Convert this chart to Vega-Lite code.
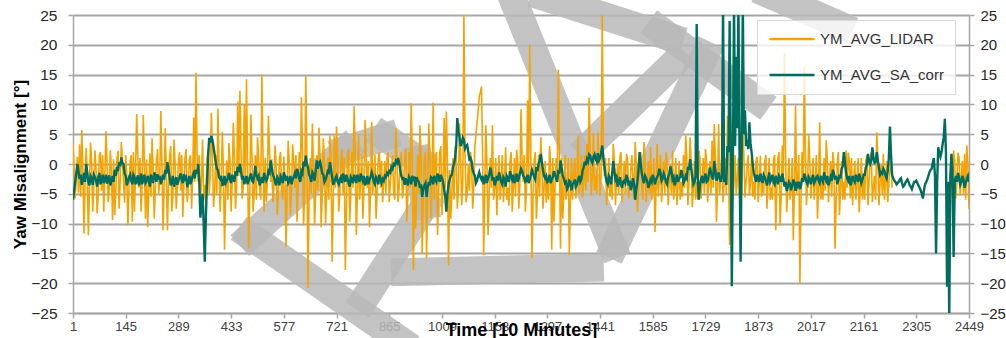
{
"$schema": "https://vega.github.io/schema/vega-lite/v6.json",
"width": 896, "height": 298,
"autosize": {"type": "none"},
"padding": {"left": 73, "top": 15, "right": 37, "bottom": 25},
"background": "white",
"config": {"view": {"stroke": null}, "font": "Liberation Sans"},
"datasets": {
"wm": [
{"x":485,"y":-12.1,"x2":894,"y2":-29.5},
{"x":485,"y":-12.1,"x2":744,"y2":2.35},
{"x":744,"y":2.35,"x2":853,"y2":4.5},
{"x":853,"y":4.5,"x2":944,"y2":0.7},
{"x":944,"y":0.7,"x2":963,"y2":-6.9},
{"x":963,"y":-6.9,"x2":799,"y2":-22.5},
{"x":908,"y":-18.1,"x2":1413,"y2":-17.4},
{"x":1198,"y":28.4,"x2":1474,"y2":-13.6},
{"x":1290,"y":28,"x2":1632,"y2":21.3},
{"x":1605,"y":22.5,"x2":1870,"y2":10.7},
{"x":1646,"y":17.1,"x2":1413,"y2":3.2},
{"x":1482,"y":-13.6,"x2":1728,"y2":18.3},
{"x":1905,"y":28.4,"x2":2096,"y2":23.3}
],
"ym": [
{"t":1,"L":3.7,"S":-6},{"t":4,"L":-1,"S":-4.5},{"t":7,"L":-5.8,"S":-3},{"t":10,"L":-2.5,"S":-1.5},{"t":13,"L":1.2,"S":0},{"t":16,"L":-4.8,"S":-1.2},{"t":19,"L":3.3,"S":-2.5},{"t":22,"L":-5.5,"S":-1.8},{"t":25,"L":5.7,"S":-3.5},{"t":28,"L":-1.5,"S":-2.6},
{"t":31,"L":-11.7,"S":-1.5},{"t":34,"L":-3,"S":-3},{"t":37,"L":2.7,"S":0},{"t":40,"L":-2,"S":-1.4},{"t":43,"L":-12,"S":-3},{"t":46,"L":-3.5,"S":-3.6},{"t":49,"L":3.6,"S":-2},{"t":52,"L":0,"S":-2.4},{"t":55,"L":-8,"S":-3.5},{"t":58,"L":-3,"S":-1.8},
{"t":61,"L":2.3,"S":-2.2},{"t":64,"L":-1,"S":-2.8},{"t":67,"L":-8.3,"S":-3.8},{"t":70,"L":-5,"S":-2.2},{"t":73,"L":1.4,"S":-1.5},{"t":76,"L":2,"S":-3.4},{"t":79,"L":-4.5,"S":-2.8},{"t":82,"L":1.5,"S":-1.8},{"t":85,"L":-8,"S":-3.2},{"t":88,"L":-2,"S":-2.6},
{"t":91,"L":5.5,"S":-1.8},{"t":94,"L":0.5,"S":-3.3},{"t":97,"L":-6.4,"S":-2.5},{"t":100,"L":-4,"S":-1.9},{"t":103,"L":2.3,"S":-3.6},{"t":106,"L":-1,"S":-2.8},{"t":109,"L":-9.4,"S":-2},{"t":112,"L":0.8,"S":-3},{"t":115,"L":-8.6,"S":-1},{"t":118,"L":-4.5,"S":-2},
{"t":121,"L":0.8,"S":-0.5},{"t":124,"L":2.2,"S":-1.2},{"t":127,"L":-7.5,"S":0.3},{"t":130,"L":-3,"S":-0.4},{"t":133,"L":3.7,"S":1.1},{"t":136,"L":0.5,"S":0.2},{"t":139,"L":-3.2,"S":0},{"t":142,"L":-6.5,"S":-1.6},{"t":145,"L":1.5,"S":-2},{"t":148,"L":-2,"S":-3.6},
{"t":151,"L":-10.3,"S":-3},{"t":154,"L":-4,"S":-2.2},{"t":157,"L":0.3,"S":-1.8},{"t":160,"L":1.5,"S":-2.8},{"t":163,"L":-9.7,"S":-3.4},{"t":166,"L":2,"S":-1.8},{"t":169,"L":-8,"S":-2.2},{"t":172,"L":-1,"S":-3.4},{"t":175,"L":8.4,"S":-2.8},{"t":178,"L":1.5,"S":-1.9},
{"t":181,"L":-4,"S":-3.6},{"t":184,"L":1,"S":-2.8},{"t":187,"L":-8,"S":-1.6},{"t":190,"L":-3,"S":-3.4},{"t":193,"L":8.2,"S":-2.6},{"t":196,"L":0,"S":-1.8},{"t":199,"L":-9.2,"S":-3.2},{"t":202,"L":0.8,"S":-2.9},{"t":205,"L":-10.6,"S":-2},{"t":208,"L":-5,"S":-2.6},
{"t":211,"L":1.8,"S":-3.8},{"t":214,"L":-5.5,"S":-1.8},{"t":217,"L":4.3,"S":-2.4},{"t":220,"L":-1,"S":-3.2},{"t":223,"L":-9.2,"S":-1.4},{"t":226,"L":-4,"S":-2},{"t":229,"L":0.5,"S":-3},{"t":232,"L":2.5,"S":-1.7},{"t":235,"L":-5,"S":-2.6},{"t":238,"L":-3,"S":-2},
{"t":241,"L":8.9,"S":-3.4},{"t":244,"L":0,"S":-2.7},{"t":247,"L":-11.1,"S":-1.8},{"t":250,"L":-4,"S":-2.6},{"t":253,"L":6,"S":-1},{"t":256,"L":-1.5,"S":-1.6},{"t":259,"L":-11.1,"S":0.3},{"t":262,"L":-3,"S":-0.8},{"t":265,"L":1.2,"S":-2.2},{"t":268,"L":3,"S":-3.6},
{"t":271,"L":-8,"S":-3},{"t":274,"L":-5,"S":-2},{"t":277,"L":4.1,"S":-3.8},{"t":280,"L":0,"S":-2.9},{"t":283,"L":-7.5,"S":-2.2},{"t":286,"L":-4,"S":-3.5},{"t":289,"L":0.4,"S":-2.8},{"t":292,"L":2,"S":-2.2},{"t":295,"L":-4.5,"S":-1.6},{"t":298,"L":1.5,"S":-2.6},
{"t":301,"L":-8.9,"S":-3.2},{"t":304,"L":-3.5,"S":-1.7},{"t":307,"L":1,"S":-2.5},{"t":310,"L":2.5,"S":-2.2},{"t":313,"L":-6.4,"S":-3.9},{"t":316,"L":-4,"S":-3},{"t":319,"L":0.6,"S":-2},{"t":322,"L":1.5,"S":-3.4},{"t":325,"L":-7.5,"S":-2.8},{"t":328,"L":-2,"S":-2},
{"t":331,"L":7.8,"S":-1.5},{"t":334,"L":-3,"S":-2.4},{"t":337,"L":15.3,"S":-1},{"t":340,"L":2,"S":-1.6},{"t":343,"L":-3,"S":0},{"t":346,"L":1.5,"S":-3},{"t":349,"L":-6.1,"S":-9},{"t":352,"L":-3,"S":-7},{"t":355,"L":4.1,"S":-5},{"t":358,"L":-6,"S":-10},
{"t":361,"L":-3.5,"S":-16.4},{"t":364,"L":-6.5,"S":-9},{"t":367,"L":0.8,"S":-3},{"t":370,"L":2.5,"S":1},{"t":373,"L":-5,"S":4.4},{"t":376,"L":-2,"S":3.6},{"t":379,"L":8.6,"S":4.7},{"t":382,"L":1,"S":4},{"t":385,"L":-7.2,"S":2.9},{"t":388,"L":-4.5,"S":1.6},
{"t":391,"L":1.5,"S":0.3},{"t":394,"L":-5,"S":-0.8},{"t":397,"L":9.3,"S":-1},{"t":400,"L":0,"S":-2.2},{"t":403,"L":-8,"S":-2.5},{"t":406,"L":-3,"S":-2},{"t":409,"L":5.4,"S":-3.5},{"t":412,"L":-1,"S":-3.4},{"t":415,"L":-14.4,"S":-2},{"t":418,"L":-5,"S":-3.2},
{"t":421,"L":0.6,"S":-2.8},{"t":424,"L":-6,"S":-2.4},{"t":427,"L":3.5,"S":-1.5},{"t":430,"L":0.5,"S":-2.6},{"t":433,"L":-8,"S":-3.2},{"t":436,"L":-3,"S":-1.8},{"t":439,"L":6.9,"S":-2.4},{"t":442,"L":1,"S":-3},{"t":445,"L":-7.5,"S":-1.2},{"t":448,"L":-4,"S":-2},
{"t":451,"L":10.5,"S":-0.5},{"t":454,"L":-2,"S":-1.4},{"t":457,"L":12.3,"S":0},{"t":460,"L":3,"S":-1.2},{"t":463,"L":-5.8,"S":-2.6},{"t":466,"L":-4,"S":-2},{"t":469,"L":10,"S":-3.4},{"t":472,"L":-3,"S":-2.8},{"t":475,"L":14.2,"S":-2},{"t":478,"L":0,"S":-3.4},
{"t":481,"L":-14.2,"S":-2.8},{"t":484,"L":-5,"S":-2.2},{"t":487,"L":8.3,"S":-1.6},{"t":490,"L":1.5,"S":-2.8},{"t":493,"L":-8,"S":-3},{"t":496,"L":-5,"S":-2},{"t":499,"L":1.5,"S":-0.3},{"t":502,"L":-6,"S":-1.8},{"t":505,"L":4.5,"S":-2.4},{"t":508,"L":1.5,"S":-2},
{"t":511,"L":-4,"S":-3.6},{"t":514,"L":-6,"S":-3},{"t":517,"L":15,"S":-2.2},{"t":520,"L":2,"S":-3.2},{"t":523,"L":-8,"S":-1.5},{"t":526,"L":1,"S":-2.2},{"t":529,"L":-6.4,"S":-2.8},{"t":532,"L":-3,"S":-2.4},{"t":535,"L":8.1,"S":-1.2},{"t":538,"L":2,"S":-1.5},
{"t":541,"L":-3,"S":0.6},{"t":544,"L":0.8,"S":-0.6},{"t":547,"L":-6.4,"S":-1.8},{"t":550,"L":-4,"S":-2.2},{"t":553,"L":3.1,"S":-3},{"t":556,"L":0,"S":-3.6},{"t":559,"L":-8.6,"S":-2.2},{"t":562,"L":-5,"S":-2.6},{"t":565,"L":0.8,"S":-3.6},{"t":568,"L":2,"S":-2},
{"t":571,"L":-4,"S":-2.4},{"t":574,"L":-6,"S":-3.2},{"t":577,"L":1.2,"S":-1.4},{"t":580,"L":-3,"S":-2},{"t":583,"L":-13.9,"S":-2.8},{"t":586,"L":-5,"S":-2},{"t":589,"L":3.9,"S":-3.2},{"t":592,"L":0,"S":-2.8},{"t":595,"L":-8.6,"S":-2},{"t":598,"L":-5,"S":-3.4},
{"t":601,"L":3.3,"S":-2.6},{"t":604,"L":0.5,"S":-2.2},{"t":607,"L":-4,"S":-1.6},{"t":610,"L":1.5,"S":-2.4},{"t":613,"L":-9.7,"S":-0.8},{"t":616,"L":-4,"S":-1.4},{"t":619,"L":2,"S":-2.4},{"t":622,"L":-3,"S":-3},{"t":625,"L":11.2,"S":-1.2},{"t":628,"L":2,"S":-1.6},
{"t":631,"L":-10.3,"S":0.4},{"t":634,"L":-4,"S":-0.4},{"t":637,"L":14.8,"S":1.4},{"t":640,"L":1,"S":0},{"t":643,"L":-20.8,"S":-0.6},{"t":646,"L":-6,"S":-1.8},{"t":649,"L":1,"S":-2.2},{"t":652,"L":-5,"S":-3},{"t":655,"L":6.8,"S":-1.4},{"t":658,"L":0,"S":-1.8},
{"t":661,"L":-10.3,"S":-2.8},{"t":664,"L":-5,"S":-1.2},{"t":667,"L":1.5,"S":0.6},{"t":670,"L":-4.5,"S":-0.8},{"t":673,"L":6.1,"S":0.2},{"t":676,"L":1,"S":0.4},{"t":679,"L":-10.6,"S":-0.5},{"t":682,"L":-5,"S":-1.6},{"t":685,"L":4.3,"S":-1.8},{"t":688,"L":0,"S":-3},
{"t":691,"L":-10,"S":-2.6},{"t":694,"L":-5,"S":-2},{"t":697,"L":1,"S":-1.2},{"t":700,"L":-6,"S":-1.4},{"t":703,"L":4.8,"S":0.3},{"t":706,"L":0,"S":-0.9},{"t":709,"L":-16.4,"S":-2.2},{"t":712,"L":-6,"S":-3.5},{"t":715,"L":4.8,"S":-3},{"t":718,"L":-4,"S":-2.4},
{"t":721,"L":6.3,"S":-2},{"t":724,"L":1,"S":-3},{"t":727,"L":-8,"S":-3.4},{"t":730,"L":-5,"S":-2.6},{"t":733,"L":0.5,"S":-2.2},{"t":736,"L":2.5,"S":-3.2},{"t":739,"L":-5,"S":-1.6},{"t":742,"L":1,"S":-2.2},{"t":745,"L":-17.8,"S":-3},{"t":748,"L":-7,"S":-1.8},
{"t":751,"L":1.7,"S":-2.4},{"t":754,"L":2.5,"S":-3.2},{"t":757,"L":-9.7,"S":-3.8},{"t":760,"L":-5,"S":-2.2},{"t":763,"L":2,"S":-2.6},{"t":766,"L":-4,"S":-3.2},{"t":769,"L":9.7,"S":-1.8},{"t":772,"L":2,"S":-2.4},{"t":775,"L":-11.9,"S":-3.2},{"t":778,"L":-5,"S":-1.8},
{"t":781,"L":5,"S":-2.4},{"t":784,"L":-6,"S":-3},{"t":787,"L":-3,"S":-1.6},{"t":790,"L":1.5,"S":-2.2},{"t":793,"L":-9.2,"S":-2.8},{"t":796,"L":-4,"S":-2},{"t":799,"L":7.4,"S":-3.6},{"t":802,"L":1,"S":-3},{"t":805,"L":-4,"S":-2},{"t":808,"L":0.5,"S":-3.4},
{"t":811,"L":-10.6,"S":-2.6},{"t":814,"L":-4,"S":-2.2},{"t":817,"L":7.1,"S":-1.4},{"t":820,"L":-5,"S":-2},{"t":823,"L":-2,"S":-3},{"t":826,"L":1.5,"S":-3.4},{"t":829,"L":-9.2,"S":-2.2},{"t":832,"L":-5,"S":-2.6},{"t":835,"L":1,"S":-3.4},{"t":838,"L":2,"S":-1.8},
{"t":841,"L":-4,"S":-2.6},{"t":844,"L":0.5,"S":-3.2},{"t":847,"L":-6.4,"S":-2.5},{"t":850,"L":-3,"S":-2.8},{"t":853,"L":0.5,"S":-2},{"t":856,"L":-5,"S":-2.2},{"t":859,"L":1.1,"S":-1.5},{"t":862,"L":2,"S":-1.8},{"t":865,"L":-6.4,"S":-1.2},{"t":868,"L":-3,"S":-1.4},
{"t":871,"L":-1,"S":-0.5},{"t":874,"L":1.5,"S":-0.8},{"t":877,"L":-4.5,"S":0},{"t":880,"L":-6,"S":-0.2},{"t":883,"L":6,"S":0.5},{"t":886,"L":1,"S":0.2},{"t":889,"L":-6.4,"S":1},{"t":892,"L":-4,"S":0.3},{"t":895,"L":0.5,"S":-1},{"t":898,"L":2,"S":-2},
{"t":901,"L":-5.8,"S":-2.5},{"t":904,"L":-4,"S":-2.4},{"t":907,"L":1,"S":-3.5},{"t":910,"L":2.5,"S":-2.4},{"t":913,"L":-9.7,"S":-3},{"t":916,"L":-5,"S":-3.6},{"t":919,"L":2,"S":-2.2},{"t":922,"L":-4,"S":-2.6},{"t":925,"L":10.2,"S":-3.4},{"t":928,"L":1,"S":-2},
{"t":931,"L":-17.8,"S":-2.6},{"t":934,"L":-2,"S":-2.4},{"t":937,"L":-10.8,"S":-3.8},{"t":940,"L":-5,"S":-2.2},{"t":943,"L":1.5,"S":-2.8},{"t":946,"L":-5,"S":-3},{"t":949,"L":6.5,"S":-4},{"t":952,"L":1,"S":-3.4},{"t":955,"L":-15,"S":-5.5},{"t":958,"L":-6,"S":-4.2},
{"t":961,"L":1,"S":-3.6},{"t":964,"L":2,"S":-3.2},{"t":967,"L":-15.8,"S":-5.5},{"t":970,"L":-5,"S":-4},{"t":973,"L":6.8,"S":-3},{"t":976,"L":1,"S":-3.6},{"t":979,"L":-9.2,"S":-2.2},{"t":982,"L":-4,"S":-2.4},{"t":985,"L":10.3,"S":-3.4},{"t":988,"L":-6,"S":-2},
{"t":991,"L":1,"S":-2.6},{"t":994,"L":2,"S":-3},{"t":997,"L":-11.9,"S":-1.6},{"t":1000,"L":-5,"S":-2.2},{"t":1003,"L":2,"S":-3},{"t":1006,"L":3,"S":-1.8},{"t":1009,"L":-8.6,"S":-2.4},{"t":1012,"L":-4,"S":-3},{"t":1015,"L":7.7,"S":-4.2},{"t":1018,"L":-4,"S":-5.5},
{"t":1021,"L":8.8,"S":-8},{"t":1024,"L":1,"S":-5},{"t":1027,"L":-17,"S":-3.5},{"t":1030,"L":-1,"S":-2.6},{"t":1033,"L":-9.2,"S":-2},{"t":1036,"L":-5,"S":-1.8},{"t":1039,"L":1,"S":-0.5},{"t":1042,"L":-6,"S":0},{"t":1045,"L":3,"S":1},{"t":1048,"L":1,"S":3},
{"t":1051,"L":-7.5,"S":7.7},{"t":1054,"L":-4,"S":5.5},{"t":1057,"L":6.8,"S":4.5},{"t":1060,"L":1,"S":3},{"t":1063,"L":-6.9,"S":3.5},{"t":1066,"L":-3,"S":4.4},{"t":1069,"L":25,"S":4},{"t":1072,"L":2,"S":2.6},{"t":1075,"L":-6.4,"S":3},{"t":1078,"L":-5,"S":3.2},
{"t":1081,"L":0,"S":2},{"t":1084,"L":-4.5,"S":0.8},{"t":1087,"L":2,"S":1},{"t":1090,"L":0.5,"S":0.4},{"t":1093,"L":-7.5,"S":-1},{"t":1096,"L":-4,"S":-1.6},{"t":1099,"L":3,"S":-2},{"t":1102,"L":5,"S":-3.2},{"t":1105,"L":7,"S":-2.8},{"t":1108,"L":9,"S":-2},
{"t":1111,"L":11.4,"S":-1.4},{"t":1114,"L":12,"S":-2.2},{"t":1117,"L":13,"S":-2.6},{"t":1120,"L":2,"S":-2},{"t":1123,"L":-15.3,"S":-3.4},{"t":1126,"L":-5,"S":-2.8},{"t":1129,"L":6.5,"S":-1.8},{"t":1132,"L":0,"S":-3.2},{"t":1135,"L":-11.9,"S":-2.4},{"t":1138,"L":-5,"S":-1.8},
{"t":1141,"L":1,"S":-0.6},{"t":1144,"L":-4,"S":-1.4},{"t":1147,"L":6.5,"S":-2.8},{"t":1150,"L":-6,"S":-2.2},{"t":1153,"L":-4,"S":-3.6},{"t":1156,"L":1,"S":-3},{"t":1159,"L":-8.6,"S":-2},{"t":1162,"L":-3,"S":-2.8},{"t":1165,"L":1.5,"S":-1.4},{"t":1168,"L":-6,"S":-2.2},
{"t":1171,"L":-3,"S":-3},{"t":1174,"L":1.5,"S":-3.4},{"t":1177,"L":-6.4,"S":-2.2},{"t":1180,"L":-3,"S":-2.6},{"t":1183,"L":2.8,"S":-3.8},{"t":1186,"L":-6,"S":-2},{"t":1189,"L":-4,"S":-2.4},{"t":1192,"L":-7,"S":-3},{"t":1195,"L":0.5,"S":-1.2},{"t":1198,"L":2,"S":-2},
{"t":1201,"L":-8,"S":-2.6},{"t":1204,"L":-4,"S":-1.8},{"t":1207,"L":1,"S":-3.2},{"t":1210,"L":-5.5,"S":-2.6},{"t":1213,"L":2.4,"S":-1.6},{"t":1216,"L":0.5,"S":-3},{"t":1219,"L":-7.5,"S":-2.4},{"t":1222,"L":-3,"S":-1.6},{"t":1225,"L":9.2,"S":-0.8},{"t":1228,"L":1,"S":-1.2},
{"t":1231,"L":-3,"S":-2},{"t":1234,"L":1.5,"S":-2.2},{"t":1237,"L":-8,"S":-3},{"t":1240,"L":-4,"S":-2.8},{"t":1243,"L":10.7,"S":-1.8},{"t":1246,"L":-2,"S":-3.2},{"t":1249,"L":20,"S":-2.6},{"t":1252,"L":1,"S":-1.8},{"t":1255,"L":-15.8,"S":-1},{"t":1258,"L":-6,"S":-1.6},
{"t":1261,"L":0.5,"S":-2.2},{"t":1264,"L":2,"S":-2.6},{"t":1267,"L":-9.2,"S":-0.5},{"t":1270,"L":-5,"S":-1.2},{"t":1273,"L":1.5,"S":0},{"t":1276,"L":-5.5,"S":0.6},{"t":1279,"L":4.5,"S":1.7},{"t":1282,"L":0,"S":0.4},{"t":1285,"L":-7.5,"S":-1},{"t":1288,"L":-4,"S":-2},
{"t":1291,"L":0.5,"S":-2.4},{"t":1294,"L":-6.5,"S":-2},{"t":1297,"L":-3,"S":-3},{"t":1300,"L":-6,"S":-2.8},{"t":1303,"L":3,"S":-1.8},{"t":1306,"L":0,"S":-3.2},{"t":1309,"L":-14.4,"S":-2.6},{"t":1312,"L":1,"S":-2.2},{"t":1315,"L":-9.7,"S":-1.2},{"t":1318,"L":-4,"S":-1.8},
{"t":1321,"L":1,"S":-2.4},{"t":1324,"L":-3,"S":-3},{"t":1327,"L":15.8,"S":-1},{"t":1330,"L":1,"S":-1.6},{"t":1333,"L":-14.2,"S":0.6},{"t":1336,"L":1,"S":-0.6},{"t":1339,"L":-9.2,"S":-2},{"t":1342,"L":-5,"S":-2.4},{"t":1345,"L":1.5,"S":-3.2},{"t":1348,"L":-6,"S":-3},
{"t":1351,"L":-3,"S":-4.2},{"t":1354,"L":1,"S":-3.8},{"t":1357,"L":-15.3,"S":-2.8},{"t":1360,"L":-6,"S":-3},{"t":1363,"L":1,"S":-4.4},{"t":1366,"L":-6,"S":-3.4},{"t":1369,"L":-2,"S":-3.2},{"t":1372,"L":1,"S":-2.6},{"t":1375,"L":-5.8,"S":-3.8},{"t":1378,"L":-2,"S":-3.4},
{"t":1381,"L":4.8,"S":-2.6},{"t":1384,"L":-5,"S":-2},{"t":1387,"L":-3,"S":-3},{"t":1390,"L":1.5,"S":-2.6},{"t":1393,"L":-5.6,"S":-1.2},{"t":1396,"L":-3,"S":-0.6},{"t":1399,"L":1.5,"S":0.4},{"t":1402,"L":-4.5,"S":-0.2},{"t":1405,"L":3.4,"S":0.8},{"t":1408,"L":-3,"S":0.4},
{"t":1411,"L":11.1,"S":1.6},{"t":1414,"L":2,"S":1.4},{"t":1417,"L":-5.3,"S":0.6},{"t":1420,"L":-2,"S":0.2},{"t":1423,"L":5.2,"S":1.2},{"t":1426,"L":-4.5,"S":1.6},{"t":1429,"L":-2,"S":0.8},{"t":1432,"L":-5,"S":0.4},{"t":1435,"L":5.3,"S":1.8},{"t":1438,"L":1,"S":0.6},
{"t":1441,"L":-5.3,"S":1},{"t":1444,"L":-2,"S":1.8},{"t":1447,"L":25,"S":3.1},{"t":1450,"L":2,"S":1},{"t":1453,"L":-2,"S":-0.5},{"t":1456,"L":1,"S":-2},{"t":1459,"L":-6.9,"S":-3},{"t":1462,"L":-3,"S":-3.4},{"t":1465,"L":1,"S":-2},{"t":1468,"L":-5.5,"S":-2.4},
{"t":1471,"L":-3,"S":-3.4},{"t":1474,"L":-6,"S":-1.6},{"t":1477,"L":3.4,"S":0.5},{"t":1480,"L":0.5,"S":-1},{"t":1483,"L":-6.9,"S":-2.6},{"t":1486,"L":-3,"S":-2.2},{"t":1489,"L":0,"S":-3.8},{"t":1492,"L":-5,"S":-3},{"t":1495,"L":1,"S":-2.2},{"t":1498,"L":2,"S":-3.4},
{"t":1501,"L":-6.4,"S":-4},{"t":1504,"L":-3.5,"S":-3},{"t":1507,"L":0.5,"S":-2.8},{"t":1510,"L":-5,"S":-3.2},{"t":1513,"L":1.7,"S":-1.8},{"t":1516,"L":1,"S":-2.4},{"t":1519,"L":-5.8,"S":-3.6},{"t":1522,"L":-3.5,"S":-2.8},{"t":1525,"L":-1,"S":-4.4},{"t":1528,"L":1.5,"S":-3.6},
{"t":1531,"L":-3.5,"S":-2.4},{"t":1534,"L":-6,"S":-3.4},{"t":1537,"L":3.7,"S":-6},{"t":1540,"L":0,"S":-4.2},{"t":1543,"L":-8,"S":-3},{"t":1546,"L":-4,"S":-1},{"t":1549,"L":0.5,"S":2},{"t":1552,"L":2,"S":0.2},{"t":1555,"L":-4,"S":-1.6},{"t":1558,"L":-6,"S":-2.6},
{"t":1561,"L":3.7,"S":-3.2},{"t":1564,"L":0.5,"S":-2},{"t":1567,"L":-6.4,"S":-2.4},{"t":1570,"L":-3,"S":-3},{"t":1573,"L":0.5,"S":-4},{"t":1576,"L":-5,"S":-3.4},{"t":1579,"L":2.8,"S":-2.6},{"t":1582,"L":-6,"S":-3},{"t":1585,"L":-4,"S":-1.8},{"t":1588,"L":1,"S":-2.4},
{"t":1591,"L":-11.4,"S":-3.4},{"t":1594,"L":-4,"S":-2.6},{"t":1597,"L":3.4,"S":-2.2},{"t":1600,"L":-5.5,"S":-1.8},{"t":1603,"L":-2,"S":-0.8},{"t":1606,"L":1.5,"S":-1.4},{"t":1609,"L":-6.4,"S":-2.8},{"t":1612,"L":-3,"S":-2.4},{"t":1615,"L":0.5,"S":-1.6},{"t":1618,"L":-5,"S":-2.2},
{"t":1621,"L":2,"S":-3},{"t":1624,"L":0.5,"S":-3.4},{"t":1627,"L":-6.9,"S":-2.2},{"t":1630,"L":-3,"S":-1.6},{"t":1633,"L":0,"S":-0.4},{"t":1636,"L":-5,"S":-1.2},{"t":1639,"L":2.2,"S":-2.6},{"t":1642,"L":-6,"S":-2.2},{"t":1645,"L":-4,"S":-3.6},{"t":1648,"L":1,"S":-2.8},
{"t":1651,"L":-6.9,"S":-1.8},{"t":1654,"L":-3,"S":-3},{"t":1657,"L":0.5,"S":-2.4},{"t":1660,"L":-6,"S":-2.2},{"t":1663,"L":-3,"S":-1},{"t":1666,"L":-5.5,"S":-1.8},{"t":1669,"L":1.5,"S":-3.2},{"t":1672,"L":-4,"S":-2.8},{"t":1675,"L":4.8,"S":-2},{"t":1678,"L":1,"S":-2.4},
{"t":1681,"L":-6.9,"S":-0.5},{"t":1684,"L":-3,"S":-1},{"t":1687,"L":4.5,"S":0.8},{"t":1690,"L":0.5,"S":-0.6},{"t":1693,"L":-7.2,"S":-2.2},{"t":1696,"L":-4,"S":-3.4},{"t":1699,"L":0.5,"S":-3},{"t":1702,"L":-6,"S":-2},{"t":1705,"L":-3,"S":23.5},{"t":1708,"L":-6,"S":-2.5},
{"t":1711,"L":2.2,"S":-6},{"t":1714,"L":1,"S":-3.4},{"t":1717,"L":-5.8,"S":-2.6},{"t":1720,"L":-3,"S":-2},{"t":1723,"L":1,"S":-3.2},{"t":1726,"L":-5,"S":-2.6},{"t":1729,"L":2.5,"S":-1.6},{"t":1732,"L":0.5,"S":-3},{"t":1735,"L":-6.4,"S":-2.8},{"t":1738,"L":-3,"S":-1.8},
{"t":1741,"L":0.5,"S":-0.6},{"t":1744,"L":-5,"S":-1.4},{"t":1747,"L":3.9,"S":-2.2},{"t":1750,"L":-4,"S":-2.6},{"t":1753,"L":6.7,"S":0.5},{"t":1756,"L":1,"S":-0.8},{"t":1759,"L":-9.7,"S":-2.8},{"t":1762,"L":-4,"S":-2.2},{"t":1765,"L":6.7,"S":-1.4},{"t":1768,"L":-5,"S":-2.4},
{"t":1771,"L":-2,"S":-3},{"t":1774,"L":1.5,"S":-2},{"t":1777,"L":-6.4,"S":27},{"t":1780,"L":-3,"S":-3},{"t":1783,"L":1,"S":-2},{"t":1786,"L":-5,"S":-3.5},{"t":1789,"L":8.1,"S":3},{"t":1792,"L":1,"S":2},{"t":1795,"L":-13.6,"S":24},{"t":1798,"L":-5,"S":3},
{"t":1801,"L":0.5,"S":-20.5},{"t":1804,"L":-6,"S":1},{"t":1807,"L":-3,"S":27},{"t":1810,"L":1.5,"S":3},{"t":1813,"L":-5.3,"S":18},{"t":1816,"L":-2.5,"S":6},{"t":1819,"L":1,"S":27},{"t":1822,"L":-5.5,"S":2},{"t":1825,"L":-2,"S":-16.4},{"t":1828,"L":-5,"S":3},
{"t":1831,"L":7.3,"S":27},{"t":1834,"L":1,"S":5},{"t":1837,"L":-5.6,"S":9},{"t":1840,"L":-3,"S":3},{"t":1843,"L":0,"S":4},{"t":1846,"L":1.5,"S":2.5},{"t":1849,"L":-5.3,"S":7},{"t":1852,"L":-3,"S":3.5},{"t":1855,"L":1.1,"S":2},{"t":1858,"L":-5.5,"S":0},
{"t":1861,"L":-3,"S":-1.5},{"t":1864,"L":-6,"S":-2.2},{"t":1867,"L":0.5,"S":-3},{"t":1870,"L":1.2,"S":-1.8},{"t":1873,"L":-6.4,"S":-2.4},{"t":1876,"L":-3,"S":-3},{"t":1879,"L":1.4,"S":-1.6},{"t":1882,"L":-5.5,"S":-2.4},{"t":1885,"L":-3,"S":-3.2},{"t":1888,"L":-5,"S":-1.8},
{"t":1891,"L":0.5,"S":-2.2},{"t":1894,"L":1.5,"S":-2.8},{"t":1897,"L":-7.5,"S":-3.6},{"t":1900,"L":-3,"S":-2.6},{"t":1903,"L":1,"S":-1.4},{"t":1906,"L":-6,"S":-3},{"t":1909,"L":-4,"S":-2.6},{"t":1912,"L":-6,"S":-1.8},{"t":1915,"L":0.8,"S":-3},{"t":1918,"L":1.5,"S":-3.4},
{"t":1921,"L":-11.1,"S":-2},{"t":1924,"L":-4,"S":-2.6},{"t":1927,"L":1,"S":-3.4},{"t":1930,"L":2,"S":-2},{"t":1933,"L":-10.3,"S":-2.4},{"t":1936,"L":-5,"S":-3},{"t":1939,"L":3.1,"S":-1.6},{"t":1942,"L":-2,"S":-2.6},{"t":1945,"L":18.6,"S":-3.8},{"t":1948,"L":1,"S":-3},
{"t":1951,"L":-8.1,"S":-4.5},{"t":1954,"L":-4,"S":-3.8},{"t":1957,"L":1,"S":-3},{"t":1960,"L":-6,"S":-3.4},{"t":1963,"L":-4,"S":-4.4},{"t":1966,"L":1,"S":-3.6},{"t":1969,"L":-12.8,"S":-2.6},{"t":1972,"L":-4,"S":-3.2},{"t":1975,"L":9.8,"S":-4.5},{"t":1978,"L":-5,"S":-3},
{"t":1981,"L":-3,"S":-3.6},{"t":1984,"L":1.5,"S":-3},{"t":1987,"L":-20,"S":-4.2},{"t":1990,"L":-6,"S":-3.6},{"t":1993,"L":2,"S":-2.4},{"t":1996,"L":-3,"S":-3},{"t":1999,"L":16.3,"S":-1.6},{"t":2002,"L":1,"S":-2.2},{"t":2005,"L":-6.9,"S":-3},{"t":2008,"L":-3,"S":-3.4},
{"t":2011,"L":4.8,"S":-2.2},{"t":2014,"L":0.5,"S":-2.6},{"t":2017,"L":-5.8,"S":-3.4},{"t":2020,"L":-3,"S":-2.4},{"t":2023,"L":1,"S":-1.8},{"t":2026,"L":-6,"S":-3.2},{"t":2029,"L":-3,"S":-2.8},{"t":2032,"L":1.5,"S":-2.2},{"t":2035,"L":-9.2,"S":-2},{"t":2038,"L":-4,"S":-2.8},
{"t":2041,"L":7,"S":-3.2},{"t":2044,"L":-6,"S":-2},{"t":2047,"L":-3,"S":-2.6},{"t":2050,"L":-6,"S":-3},{"t":2053,"L":1,"S":-1.4},{"t":2056,"L":-4.5,"S":-2.2},{"t":2059,"L":4,"S":-2.8},{"t":2062,"L":0.5,"S":-2},{"t":2065,"L":-6.4,"S":-3.6},{"t":2068,"L":-3,"S":-3},
{"t":2071,"L":0.5,"S":-2.2},{"t":2074,"L":-5.5,"S":-2.8},{"t":2077,"L":2,"S":-1},{"t":2080,"L":0,"S":-1.6},{"t":2083,"L":-14.2,"S":-2.6},{"t":2086,"L":-6,"S":-2},{"t":2089,"L":0,"S":-3.4},{"t":2092,"L":2,"S":-2.8},{"t":2095,"L":-8.6,"S":-1.8},{"t":2098,"L":-4,"S":-2.4},
{"t":2101,"L":0.5,"S":-0.8},{"t":2104,"L":-6,"S":-0.4},{"t":2107,"L":-3,"S":2},{"t":2110,"L":-6,"S":0.4},{"t":2113,"L":2.3,"S":-1.4},{"t":2116,"L":-4,"S":-2.4},{"t":2119,"L":1.9,"S":-2.8},{"t":2122,"L":0.5,"S":-2},{"t":2125,"L":-5.8,"S":-3.6},{"t":2128,"L":1,"S":-3},
{"t":2131,"L":-6.9,"S":-2},{"t":2134,"L":-3,"S":-2.6},{"t":2137,"L":0.5,"S":-3},{"t":2140,"L":-6,"S":-1.8},{"t":2143,"L":-3,"S":-2.4},{"t":2146,"L":1,"S":-3},{"t":2149,"L":-8.1,"S":-1.6},{"t":2152,"L":-4,"S":-2.4},{"t":2155,"L":1,"S":-3.2},{"t":2158,"L":-6,"S":-2.6},
{"t":2161,"L":-2,"S":-1.8},{"t":2164,"L":-6,"S":-1.8},{"t":2167,"L":0.5,"S":-0.6},{"t":2170,"L":1.5,"S":-0.2},{"t":2173,"L":-6.9,"S":1.7},{"t":2176,"L":-3,"S":0.4},{"t":2179,"L":1,"S":0},{"t":2182,"L":2,"S":0.6},{"t":2185,"L":-6.4,"S":2.8},{"t":2188,"L":-4,"S":1},
{"t":2191,"L":-2,"S":0.2},{"t":2194,"L":-6,"S":0.4},{"t":2197,"L":5.3,"S":2},{"t":2200,"L":0.5,"S":0.6},{"t":2203,"L":-6.9,"S":-0.6},{"t":2206,"L":-3,"S":-1.8},{"t":2209,"L":0,"S":-1.4},{"t":2212,"L":-5,"S":-1.6},{"t":2215,"L":1.7,"S":-0.8},{"t":2218,"L":-6,"S":-1.2},
{"t":2221,"L":-3,"S":-2},{"t":2224,"L":0.5,"S":-2.4},{"t":2227,"L":-6.4,"S":-1.2},{"t":2230,"L":-3,"S":1},{"t":2233,"L":-1,"S":6.3},{"t":2236,"L":0.5,"S":1.5},{"t":2239,"L":-4,"S":-1.8},{"t":2242,"L":null,"S":-2.4},{"t":2245,"L":null,"S":-2.8},{"t":2248,"L":null,"S":-3},
{"t":2251,"L":null,"S":-3.4},{"t":2254,"L":null,"S":-3.2},{"t":2257,"L":null,"S":-3},{"t":2260,"L":null,"S":-2.6},{"t":2263,"L":null,"S":-2.4},{"t":2266,"L":null,"S":-3.2},{"t":2269,"L":null,"S":-3.8},{"t":2272,"L":null,"S":-3.6},{"t":2275,"L":null,"S":-3.2},{"t":2278,"L":null,"S":-2.8},
{"t":2281,"L":null,"S":-2.6},{"t":2284,"L":null,"S":-3},{"t":2287,"L":null,"S":-3.6},{"t":2290,"L":null,"S":-3.8},{"t":2293,"L":null,"S":-4.2},{"t":2296,"L":null,"S":-3.6},{"t":2299,"L":null,"S":-3},{"t":2302,"L":null,"S":-3},{"t":2305,"L":null,"S":-2.8},{"t":2308,"L":null,"S":-3.2},
{"t":2311,"L":null,"S":-3.6},{"t":2314,"L":null,"S":-4},{"t":2317,"L":null,"S":-4.4},{"t":2320,"L":null,"S":-5},{"t":2323,"L":null,"S":-5.8},{"t":2326,"L":null,"S":-4.4},{"t":2329,"L":null,"S":-3.4},{"t":2332,"L":null,"S":-3},{"t":2335,"L":null,"S":-2.6},{"t":2338,"L":null,"S":-2},
{"t":2341,"L":null,"S":-1.4},{"t":2344,"L":null,"S":-1},{"t":2347,"L":null,"S":-0.8},{"t":2350,"L":null,"S":0.2},{"t":2353,"L":null,"S":1},{"t":2356,"L":null,"S":-2},{"t":2359,"L":null,"S":-15},{"t":2362,"L":null,"S":-3},{"t":2365,"L":null,"S":2.8},{"t":2368,"L":null,"S":1.8},
{"t":2371,"L":null,"S":1.2},{"t":2374,"L":null,"S":2},{"t":2377,"L":null,"S":3.4},{"t":2380,"L":null,"S":4.5},{"t":2383,"L":null,"S":7.6},{"t":2386,"L":null,"S":2},{"t":2389,"L":null,"S":-20.6},{"t":2392,"L":null,"S":-3},{"t":2395,"L":-3,"S":-26},{"t":2398,"L":-5,"S":-2},
{"t":2401,"L":-1,"S":1.7},{"t":2404,"L":-4,"S":-1},{"t":2407,"L":2.3,"S":-15.6},{"t":2410,"L":0.5,"S":-3},{"t":2413,"L":-5.8,"S":-2},{"t":2416,"L":-3,"S":-3},{"t":2419,"L":1.9,"S":-1.5},{"t":2422,"L":1,"S":-2.4},{"t":2425,"L":-5.3,"S":-3.5},{"t":2428,"L":-2,"S":-3},
{"t":2431,"L":0.5,"S":-2},{"t":2434,"L":-5,"S":-2.6},{"t":2437,"L":1.7,"S":-4},{"t":2440,"L":-6,"S":-3.2},{"t":2443,"L":3.1,"S":-2.5},{"t":2446,"L":0,"S":-2},{"t":2449,"L":-7.5,"S":-3}
]
},
"layer": [
{
"data": {"name": "wm"},
"mark": {"type": "rule", "color": "#b8b8b8", "opacity": 0.85, "strokeWidth": 28, "strokeCap": "square", "clip": false},
"encoding": {
"x": {"field": "x", "type": "quantitative", "scale": {"domain": [1, 2449], "nice": false, "zero": false},
"axis": {"values": [1,145,289,433,577,721,865,1009,1153,1297,1441,1585,1729,1873,2017,2161,2305,2449], "format": "d", "title": "Time [10 Minutes]", "titleFont": "Liberation Sans", "titleFontSize": 18, "titleFontWeight": "bold", "titleColor": "#000000", "titleBaseline": "alphabetic", "titleY": 22, "labelFont": "Liberation Sans", "labelFontSize": 13, "labelColor": "#404040", "labelPadding": 2, "labelOverlap": false, "labelFlush": false, "tickSize": 5, "tickColor": "#a6a6a6", "tickWidth": 1.5, "domainColor": "#a6a6a6", "domainWidth": 1.5, "grid": false}},
"x2": {"field": "x2"},
"y": {"field": "y", "type": "quantitative", "scale": {"domain": [-25, 25], "nice": false, "zero": false}, "axis": null},
"y2": {"field": "y2"}
}
},
{
"data": {"name": "ym"},
"mark": {"type": "line", "strokeWidth": 1.6, "clip": true, "invalid": "break-paths-filter-domains"},
"encoding": {
"x": {"field": "t", "type": "quantitative", "scale": {"domain": [1, 2449], "nice": false, "zero": false},
"axis": {"values": [1,145,289,433,577,721,865,1009,1153,1297,1441,1585,1729,1873,2017,2161,2305,2449], "format": "d", "title": "Time [10 Minutes]", "titleFont": "Liberation Sans", "titleFontSize": 18, "titleFontWeight": "bold", "titleColor": "#000000", "titleBaseline": "alphabetic", "titleY": 22, "labelFont": "Liberation Sans", "labelFontSize": 13, "labelColor": "#404040", "labelPadding": 2, "labelOverlap": false, "labelFlush": false, "tickSize": 5, "tickColor": "#a6a6a6", "tickWidth": 1.5, "domainColor": "#a6a6a6", "domainWidth": 1.5, "grid": false}},
"y": {"field": "L", "type": "quantitative", "scale": {"domain": [-25, 25], "nice": false, "zero": false},
"axis": {"orient": "left", "values": [-25,-20,-15,-10,-5,0,5,10,15,20,25], "title": "Yaw Misalignment [°]", "titleFont": "Liberation Sans", "titleFontSize": 17, "titleFontWeight": "bold", "titleColor": "#000000", "titleAngle": 270, "titleBaseline": "alphabetic", "titleAlign": "center", "titleX": -48, "titleY": 149, "labelFont": "Liberation Sans", "labelFontSize": 15.5, "labelColor": "#262626", "labelPadding": 11, "tickSize": 5, "tickColor": "#a6a6a6", "tickWidth": 1.5, "domainColor": "#a6a6a6", "domainWidth": 1.5, "grid": true, "gridColor": "#a6a6a6", "gridWidth": 1.8}},
"color": {"datum": "YM_AVG_LIDAR", "type": "nominal",
"scale": {"domain": ["YM_AVG_LIDAR", "YM_AVG_SA_corr"], "range": ["#F5A300", "#006E5E"]},
"legend": {"title": null, "orient": "none", "legendX": 684, "legendY": 5, "direction": "vertical", "padding": 11, "fillColor": "rgba(255,255,255,0.8)", "strokeColor": "#d9d9d9", "symbolType": "stroke", "symbolSize": 2025, "symbolStrokeWidth": 2.5, "clipHeight": 16, "rowPadding": 20, "labelFont": "Liberation Sans", "labelFontSize": 15, "labelColor": "#333333", "labelOffset": 4}}
}
},
{
"data": {"name": "ym"},
"mark": {"type": "line", "strokeWidth": 2.4, "clip": true},
"encoding": {
"x": {"field": "t", "type": "quantitative", "scale": {"domain": [1, 2449], "nice": false, "zero": false},
"axis": {"values": [1,145,289,433,577,721,865,1009,1153,1297,1441,1585,1729,1873,2017,2161,2305,2449], "format": "d", "title": "Time [10 Minutes]", "titleFont": "Liberation Sans", "titleFontSize": 18, "titleFontWeight": "bold", "titleColor": "#000000", "titleBaseline": "alphabetic", "titleY": 22, "labelFont": "Liberation Sans", "labelFontSize": 13, "labelColor": "#404040", "labelPadding": 2, "labelOverlap": false, "labelFlush": false, "tickSize": 5, "tickColor": "#a6a6a6", "tickWidth": 1.5, "domainColor": "#a6a6a6", "domainWidth": 1.5, "grid": false}},
"y": {"field": "S", "type": "quantitative", "scale": {"domain": [-25, 25], "nice": false, "zero": false},
"axis": {"orient": "right", "values": [-25,-20,-15,-10,-5,0,5,10,15,20,25], "title": null, "labelFont": "Liberation Sans", "labelFontSize": 15, "labelColor": "#262626", "labelPadding": 6, "tickSize": 5, "tickColor": "#a6a6a6", "tickWidth": 1.5, "domainColor": "#a6a6a6", "domainWidth": 1.5, "grid": false}},
"color": {"datum": "YM_AVG_SA_corr", "type": "nominal"}
}
}
],
"resolve": {"axis": {"y": "independent"}}
}
